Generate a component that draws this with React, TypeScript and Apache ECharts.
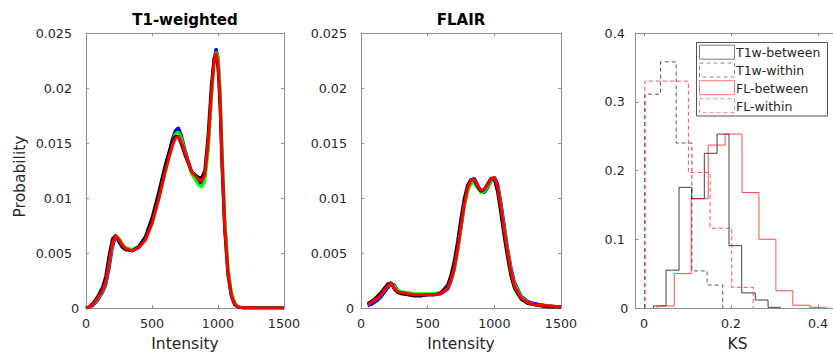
import React, { useEffect, useRef } from 'react';
import * as echarts from 'echarts';

// ---------- T1-weighted intensity histograms ----------
const T1_INTENSITY = [0, 25, 50, 75, 100, 125, 150, 175, 200, 225, 250, 275, 300, 350, 400, 450, 500, 550, 600, 650, 675, 700, 725, 750, 800, 850, 875, 900, 925, 950, 970, 985, 1000, 1015, 1030, 1050, 1075, 1100, 1125, 1150, 1200, 1300, 1400, 1500];
const T1_RED = [0, 0.0001, 0.0003, 0.0007, 0.0011, 0.0016, 0.0024, 0.0042, 0.0059, 0.0066, 0.0062, 0.0057, 0.0054, 0.0052, 0.0055, 0.0062, 0.0077, 0.0099, 0.0124, 0.0146, 0.0154, 0.0156, 0.015, 0.0141, 0.0124, 0.0117, 0.0115, 0.0121, 0.015, 0.0196, 0.0224, 0.0232, 0.0222, 0.019, 0.0135, 0.0075, 0.0032, 0.0012, 0.0004, 0.0001, 0, 0, 0, 0];
const T1_BLUE = [0, 0.0001, 0.0002, 0.0005, 0.0009, 0.0014, 0.0021, 0.0036, 0.0055, 0.0065, 0.0063, 0.0058, 0.0054, 0.0052, 0.0055, 0.0062, 0.0077, 0.01, 0.0127, 0.0152, 0.0161, 0.0164, 0.0156, 0.0144, 0.0124, 0.0115, 0.0113, 0.0119, 0.0147, 0.0195, 0.0226, 0.0236, 0.0228, 0.0197, 0.0143, 0.0081, 0.0036, 0.0014, 0.0005, 0.0001, 0, 0, 0, 0];
const T1_GREEN = [0, 0.0001, 0.0003, 0.0006, 0.001, 0.0015, 0.0023, 0.004, 0.0058, 0.0066, 0.0063, 0.0058, 0.0055, 0.0053, 0.0056, 0.0063, 0.0077, 0.0098, 0.0123, 0.0148, 0.0158, 0.016, 0.0154, 0.0142, 0.0122, 0.0112, 0.011, 0.0115, 0.0142, 0.019, 0.0222, 0.0233, 0.0229, 0.02, 0.0148, 0.0084, 0.0037, 0.0015, 0.0005, 0.0001, 0, 0, 0, 0];
const T1_BLACK = [0, 0.0001, 0.0004, 0.0008, 0.0013, 0.0019, 0.0029, 0.0048, 0.0063, 0.0066, 0.006, 0.0055, 0.0053, 0.0052, 0.0056, 0.0065, 0.0082, 0.0105, 0.013, 0.015, 0.0156, 0.0156, 0.0148, 0.0139, 0.0124, 0.0119, 0.0118, 0.0125, 0.0157, 0.0203, 0.0227, 0.023, 0.0218, 0.0185, 0.013, 0.0072, 0.003, 0.0011, 0.0003, 0.0001, 0, 0, 0, 0];

// ---------- FLAIR intensity histograms ----------
const FL_INTENSITY = [50, 75, 100, 125, 150, 175, 200, 225, 250, 275, 300, 350, 400, 450, 500, 550, 600, 650, 675, 700, 725, 750, 775, 800, 825, 850, 875, 900, 925, 950, 975, 1000, 1025, 1050, 1075, 1100, 1125, 1150, 1200, 1250, 1300, 1400, 1500];
const FL_RED = [0.0003, 0.0005, 0.0007, 0.0009, 0.0012, 0.0016, 0.002, 0.0023, 0.0018, 0.0015, 0.0014, 0.0013, 0.0012, 0.0012, 0.0012, 0.0012, 0.0013, 0.0018, 0.0026, 0.0037, 0.0054, 0.0075, 0.0095, 0.0109, 0.0116, 0.0117, 0.0111, 0.0107, 0.0108, 0.0112, 0.0117, 0.0119, 0.011, 0.0091, 0.007, 0.005, 0.0033, 0.002, 0.0009, 0.0005, 0.0003, 0.0002, 0.0001];
const FL_BLACK = [0.0004, 0.0006, 0.0008, 0.0011, 0.0014, 0.0018, 0.0022, 0.0023, 0.0017, 0.0014, 0.0013, 0.0012, 0.0011, 0.0011, 0.0012, 0.0012, 0.0014, 0.0021, 0.003, 0.0043, 0.0061, 0.0082, 0.01, 0.0112, 0.0117, 0.0116, 0.011, 0.0106, 0.0108, 0.0113, 0.0118, 0.0117, 0.0105, 0.0085, 0.0064, 0.0045, 0.0029, 0.0018, 0.0008, 0.0004, 0.0003, 0.0001, 0.0001];
const FL_BLUE = [0.0002, 0.0003, 0.0005, 0.0007, 0.001, 0.0014, 0.0018, 0.0022, 0.0021, 0.0016, 0.0014, 0.0013, 0.0012, 0.0012, 0.0012, 0.0012, 0.0013, 0.0017, 0.0024, 0.0035, 0.0052, 0.0073, 0.0093, 0.0108, 0.0116, 0.0118, 0.0112, 0.0106, 0.0105, 0.0109, 0.0115, 0.0119, 0.0113, 0.0096, 0.0075, 0.0054, 0.0037, 0.0024, 0.0011, 0.0006, 0.0004, 0.0002, 0.0001];
const FL_GREEN = [0.0003, 0.0005, 0.0007, 0.0009, 0.0012, 0.0016, 0.002, 0.0022, 0.002, 0.0016, 0.0015, 0.0014, 0.0013, 0.0013, 0.0013, 0.0013, 0.0014, 0.0018, 0.0025, 0.0036, 0.0052, 0.0072, 0.0092, 0.0106, 0.0113, 0.0114, 0.0109, 0.0105, 0.0106, 0.011, 0.0115, 0.0117, 0.011, 0.0093, 0.0072, 0.0052, 0.0035, 0.0022, 0.001, 0.0005, 0.0003, 0.0002, 0.0001];

// ---------- KS distance histograms (bin edges + bin values) ----------
const T1W_BETWEEN_EDGES = [0.0214, 0.0506, 0.0805, 0.1097, 0.1386, 0.1679, 0.1954, 0.2246, 0.2558, 0.2851, 0.3144];
const T1W_BETWEEN = [0.003, 0.055, 0.1755, 0.159, 0.225, 0.253, 0.0907, 0.022, 0.0116, 0.001];
const T1W_WITHIN_EDGES = [0.002, 0.038, 0.074, 0.11, 0.145, 0.181];
const T1W_WITHIN = [0.311, 0.358, 0.24, 0.054, 0.0335];
const FL_BETWEEN_EDGES = [0.0308, 0.0697, 0.1086, 0.1475, 0.1864, 0.2253, 0.2642, 0.3031, 0.342, 0.3809, 0.4198];
const FL_BETWEEN = [0.003, 0.05, 0.159, 0.237, 0.253, 0.168, 0.1, 0.025, 0.004, 0.001];
const FL_WITHIN_EDGES = [0.002, 0.052, 0.102, 0.152, 0.2016, 0.251];
const FL_WITHIN = [0.33, 0.33, 0.197, 0.116, 0.03];

const LEGEND_NAMES = ['T1w-between', 'T1w-within', 'FL-between', 'FL-within'];
const INTENSITY_TICKS_MAX = 1500;
const PROB_MAX = 0.025;
const KS_TICKS = [0, 0.2, 0.4];

const FONT = '"DejaVu Sans", sans-serif';
const TXT = '#262626';
const AX = '#8f8f8f';

function zip(xs: number[], ys: number[]) {
  return xs.map((x, i) => [x, ys[i]]);
}

function stairs(edges: number[], vals: number[]) {
  const pts: number[][] = [[edges[0], 0]];
  vals.forEach((v, i) => {
    pts.push([edges[i], v]);
    pts.push([edges[i + 1], v]);
  });
  pts.push([edges[edges.length - 1], 0]);
  return pts;
}

const tickStyle = { show: true, inside: true, length: 3, lineStyle: { color: AX, width: 1 } };
const lineStyleAx = { show: true, onZero: false, lineStyle: { color: AX, width: 1 } };
const labelFont = { color: TXT, fontSize: 12.7, fontFamily: FONT };
const nameFont = { color: TXT, fontSize: 15.5, fontFamily: FONT };

function fmt(v: number) {
  return String(+v.toFixed(4));
}

function yLabel(pad: number) {
  return {
    ...labelFont,
    margin: 7,
    formatter: (v: number) => (v === 0 ? '{z|0}' : '{n|' + fmt(v) + '}'),
    rich: {
      z: { ...labelFont },
      n: { ...labelFont, padding: [0, pad, 0, 0] },
    },
  };
}

export default function App() {
  const ref = useRef<HTMLDivElement>(null);

  useEffect(() => {
    document.body.style.margin = '0';
    if (!ref.current) return;
    const chart = echarts.init(ref.current, undefined, { renderer: 'svg' });

    const curve = (xi: number, xs: number[], ys: number[], color: string, name: string) => ({
      type: 'line',
      name,
      xAxisIndex: xi,
      yAxisIndex: xi,
      data: zip(xs, ys),
      showSymbol: false,
      symbol: 'none',
      silent: true,
      lineStyle: { color, width: 3 },
      z: 2,
    });

    const hist = (edges: number[], vals: number[], color: string, dashed: boolean, name: string) => ({
      type: 'line',
      name,
      xAxisIndex: 4,
      yAxisIndex: 4,
      data: stairs(edges, vals),
      showSymbol: false,
      symbol: 'none',
      silent: true,
      lineStyle: { color, width: 1, type: dashed ? [4, 3] : 'solid' },
      z: 2,
    });

    const xPair = (g: number, min: number, max: number, extra: any, name?: string) => [
      {
        type: 'value', gridIndex: g, position: 'bottom', min, max, ...extra.axis,
        axisLine: lineStyleAx, axisTick: { ...tickStyle, ...(extra.tick || {}) },
        axisLabel: { ...labelFont, margin: 9, formatter: (v: number) => fmt(v), ...(extra.label || {}) },
        splitLine: { show: false },
        name, nameLocation: 'middle', nameGap: 28, nameTextStyle: nameFont,
      },
      {
        type: 'value', gridIndex: g, position: 'top', min, max, ...extra.axis,
        axisLine: lineStyleAx, axisTick: { ...tickStyle, ...(extra.tick || {}) },
        axisLabel: { show: false }, splitLine: { show: false },
      },
    ];

    const yPair = (g: number, min: number, max: number, interval: number, pad: number, name?: string) => [
      {
        type: 'value', gridIndex: g, position: 'left', min, max, interval,
        axisLine: lineStyleAx, axisTick: tickStyle,
        axisLabel: yLabel(pad), splitLine: { show: false },
        name, nameLocation: 'middle', nameGap: 58,
        nameTextStyle: { ...nameFont, padding: [0, 12, 0, 0] },
      },
      {
        type: 'value', gridIndex: g, position: 'right', min, max, interval,
        axisLine: lineStyleAx, axisTick: tickStyle,
        axisLabel: { show: false }, splitLine: { show: false },
      },
    ];

    const ksCustom = {
      axis: {},
      tick: { customValues: KS_TICKS },
      label: { customValues: KS_TICKS, formatter: (v: number) => fmt(v) },
    };

    const legendRowsY = [52.2, 70, 87.7, 105.7];
    const legendStyles = [
      { stroke: '#7a7a7a', dash: null },
      { stroke: '#8a8a8a', dash: [4, 3] },
      { stroke: '#ff7777', dash: null },
      { stroke: '#ff8888', dash: [4, 3] },
    ];
    const legendGraphics: any[] = [
      {
        type: 'rect', shape: { x: 696.5, y: 42.5, width: 131, height: 73.5 },
        style: { fill: '#ffffff', stroke: '#555555', lineWidth: 1 }, z: 10,
      },
    ];
    LEGEND_NAMES.forEach((n, i) => {
      const s = legendStyles[i];
      legendGraphics.push({
        type: 'rect', shape: { x: 699.5, y: legendRowsY[i] - 7, width: 35, height: 14 },
        style: { fill: '#ffffff', stroke: s.stroke, lineWidth: 1, lineDash: s.dash || undefined }, z: 11,
      });
      legendGraphics.push({
        type: 'text', x: 736, y: legendRowsY[i] + 0.5,
        style: { text: n, fill: TXT, font: `12.5px ${FONT}`, textVerticalAlign: 'middle', textAlign: 'left' },
        z: 11,
      });
    });

    chart.setOption({
      animation: false,
      backgroundColor: '#ffffff',
      title: [
        { text: 'T1-weighted', left: 185, top: 12, textAlign: 'center', padding: 0, textStyle: { fontFamily: FONT, fontWeight: 'bold', fontSize: 15, color: '#000' } },
        { text: 'FLAIR', left: 461, top: 12, textAlign: 'center', padding: 0, textStyle: { fontFamily: FONT, fontWeight: 'bold', fontSize: 15, color: '#000' } },
      ],
      grid: [
        { left: 86, top: 33, width: 198, height: 275, outerBoundsMode: 'none' },
        { left: 361, top: 33, width: 200, height: 275, outerBoundsMode: 'none' },
        { left: 635.3, top: 33, width: 204.5, height: 275, outerBoundsMode: 'none' },
      ],
      xAxis: [
        ...xPair(0, 0, INTENSITY_TICKS_MAX, { axis: { interval: 500 } }, 'Intensity'),
        ...xPair(1, 0, INTENSITY_TICKS_MAX, { axis: { interval: 500 } }, 'Intensity'),
        ...xPair(2, -0.02, 0.45, ksCustom, 'KS'),
      ],
      yAxis: [
        ...yPair(0, 0, PROB_MAX, 0.005, 7, 'Probability'),
        ...yPair(1, 0, PROB_MAX, 0.005, 7),
        ...yPair(2, 0, 0.4, 0.1, 3.5),
      ],
      graphic: legendGraphics,
      series: [
        curve(0, T1_INTENSITY, T1_BLUE, '#0000ff', 't1-blue'),
        curve(0, T1_INTENSITY, T1_GREEN, '#00ff00', 't1-green'),
        curve(0, T1_INTENSITY, T1_BLACK, '#000000', 't1-black'),
        curve(0, T1_INTENSITY, T1_RED, '#ff0000', 't1-red'),
        curve(2, FL_INTENSITY, FL_BLUE, '#0000ff', 'fl-blue'),
        curve(2, FL_INTENSITY, FL_GREEN, '#00ff00', 'fl-green'),
        curve(2, FL_INTENSITY, FL_BLACK, '#000000', 'fl-black'),
        curve(2, FL_INTENSITY, FL_RED, '#ff0000', 'fl-red'),
        hist(T1W_BETWEEN_EDGES, T1W_BETWEEN, 'rgba(0,0,0,0.75)', false, LEGEND_NAMES[0]),
        hist(T1W_WITHIN_EDGES, T1W_WITHIN, 'rgba(0,0,0,0.65)', true, LEGEND_NAMES[1]),
        hist(FL_BETWEEN_EDGES, FL_BETWEEN, 'rgba(255,0,0,0.7)', false, LEGEND_NAMES[2]),
        hist(FL_WITHIN_EDGES, FL_WITHIN, 'rgba(255,0,0,0.7)', true, LEGEND_NAMES[3]),
      ],
    });

    return () => chart.dispose();
  }, []);

  return <div ref={ref} style={{ width: 833, height: 354 }} />;
}
